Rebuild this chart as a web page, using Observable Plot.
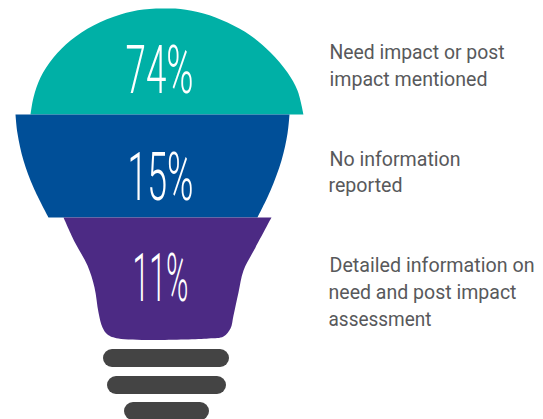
<!DOCTYPE html>
<html><head><meta charset="utf-8">
<script src="https://cdn.jsdelivr.net/npm/d3@7"></script>
<script src="https://cdn.jsdelivr.net/npm/@observablehq/plot@0.6"></script>
<style>html,body{margin:0;padding:0;background:#fff}svg{display:block}</style>
</head><body><div id="c"></div>
<script>
const categories = ["Need impact or post impact mentioned", "No information reported", "Detailed information on need and post impact assessment"];
const shares = [74, 15, 11];
const colours = ["#00b0a6", "#004f98", "#4c2a84"];
// bulb outlines
const tealX = [30,33,40,53,70,93,120,143,167,180,203,227,250,270,287,297,303];
const tealY = [114,97,77,57,40,25,14,9,8,8.5,13,22,35,52,72,90,114];
const blueX = [15,17,23,33,48,48,257,257,270,281,287,289];
const blueY = [114,133,160,187,217,217,217,217,190,160,133,114];
const purpleX = [63,75,87,94,98,102,107,118,208,223,230,233,238,243,255,271];
const purpleY = [217,243,265,287,312,327,334,338,338,336,328,315,292,270,247,217];
const capX1 = [103,107,124];
const capX2 = [229,226,209];
const capY1 = [349,376,402];
const capY2 = [367,394,420];
const pctX = [159,160,160];
const pctY = [71,178,279];
const pctW = [68,66,56];
const labelLines = ["Need impact or post","impact mentioned","No information","reported","Detailed information on","need and post impact","assessment"];
const labelY = [52,79,159,185,265,292,319];
const labelX = [329,329,329,328,329,328,328];
const labelW = [175,158,131,74,205,188,103];

const outline = (xs, ys, i) => xs.map((x, k) => ({x, y: ys[k], seg: categories[i]}));
const shapes = [...outline(tealX, tealY, 0), ...outline(blueX, blueY, 1), ...outline(purpleX, purpleY, 2)];
const pct = shares.map((s, i) => ({t: s + "%", x: pctX[i], y: pctY[i], w: pctW[i]}));
const labels = labelLines.map((t, i) => ({t, x: labelX[i], y: labelY[i], w: labelW[i]}));
const caps = capX1.map((x1, i) => ({x1, x2: capX2[i], y1: capY1[i], y2: capY2[i]}));

const chart = Plot.plot({
  width: 543, height: 419, margin: 0,
  x: {domain: [0, 543], range: [0, 543], axis: null},
  y: {domain: [0, 419], range: [0, 419], axis: null},
  color: {domain: categories, range: colours},
  marks: [
    Plot.line(shapes, {x: "x", y: "y", z: "seg", fill: "seg", stroke: null, curve: "catmull-rom"}),
    Plot.rect(caps, {x1: "x1", x2: "x2", y1: "y1", y2: "y2", fill: "#444444", rx: 9}),
    Plot.text(pct, {x: "x", y: "y", text: "t", fill: "white", fontSize: 67, fontWeight: 300, fontFamily: "Roboto", textAnchor: "middle", className: "pct"}),
    Plot.text(labels, {x: "x", y: "y", text: "t", fill: "#58595b", fontSize: 20.5, fontFamily: "Roboto", textAnchor: "start", className: "lab"})
  ]
});
const fit = (cls, rows) => d3.select(chart).selectAll(`g.${cls} text`).each(function(d, i) {
  this.setAttribute("textLength", rows[i].w);
  this.setAttribute("lengthAdjust", "spacingAndGlyphs");
});
fit("pct", pct); fit("lab", labels);
document.getElementById("c").append(chart);
</script></body></html>
